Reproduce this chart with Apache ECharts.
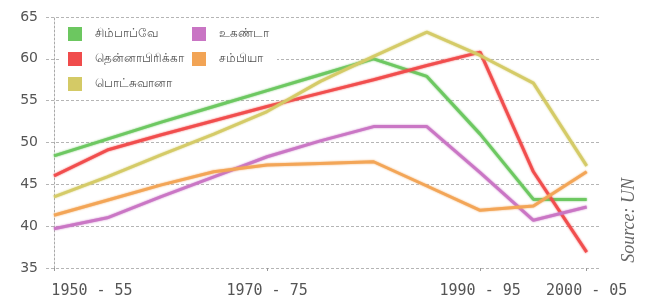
<!DOCTYPE html>
<html>
<head>
<meta charset="utf-8">
<script src="https://cdn.jsdelivr.net/npm/echarts@6/dist/echarts.min.js"></script>
<style>html,body{margin:0;padding:0;background:#fff;}#c{width:647px;height:307px;}</style>
</head>
<body>
<div id="c"></div>
<script>
const categories = ['1950 - 55','1955 - 60','1960 - 65','1965 - 70','1970 - 75','1975 - 80','1980 - 85','1985 - 90','1990 - 95','1995 - 00','2000 - 05'];
const labeledIndices = [0, 4, 8, 10];
const yTicks = [35, 40, 45, 50, 55, 60, 65];

const seriesNames = ['சிம்பாப்வே', 'தென்னாபிரிக்கா', 'பொட்சுவானா', 'உகண்டா', 'சம்பியா'];
const zimbabwe    = [48.4, 50.4, 52.4, 54.3, 56.2, 58.1, 60.0, 57.9, 51.0, 43.2, 43.2];
const southAfrica = [46.0, 49.1, 50.9, 52.6, 54.3, 55.9, 57.5, 59.2, 60.8, 46.5, 36.9];
const botswana    = [43.5, 45.9, 48.5, 51.0, 53.7, 57.3, 60.3, 63.2, 60.4, 57.1, 47.2];
const uganda      = [39.7, 41.0, 43.5, 45.9, 48.3, 50.2, 51.9, 51.9, 46.4, 40.7, 42.3];
const zambia      = [41.3, 43.1, 44.9, 46.5, 47.3, 47.5, 47.7, 44.8, 41.9, 42.4, 46.5];
const colors = ['#6cc760', '#f04c4c', '#d4ca66', '#c975c4', '#f2a455'];
const allValues = [zimbabwe, southAfrica, botswana, uganda, zambia];

const chart = echarts.init(document.getElementById('c'), null, {renderer: 'canvas'});
const series = seriesNames.map((name, k) => ({
  name: name,
  type: 'line',
  data: allValues[k].map((v, i) => [i, v]),
  symbol: 'none',
  smooth: false,
  lineStyle: {width: 3, color: colors[k], shadowColor: colors[k], shadowBlur: 2, opacity: 0.95},
  itemStyle: {color: colors[k]},
  z: 3
}));

const legendText = {fontSize: 12, color: '#555', padding: [0, 0, 0, 8], fontFamily: 'Noto Sans, DejaVu Sans, sans-serif'};
chart.setOption({
  animation: false,
  backgroundColor: '#fff',
  color: colors,
  grid: {left: 46, right: 47, top: 17, bottom: 39},
  xAxis: {
    type: 'value', min: -0.15, max: 10.25,
    axisLine: {show: false},
    splitLine: {show: false},
    axisTick: {show: true, customValues: labeledIndices, length: 3, lineStyle: {color: '#999'}},
    axisLabel: {
      customValues: labeledIndices,
      formatter: v => {
        const i = Math.round(v);
        return i === 0 ? '{first|' + categories[i] + '}' : (categories[i] || '');
      },
      rich: {first: {padding: [0, 0, 0, 76], fontSize: 15, color: '#555', fontFamily: 'DejaVu Sans Mono, monospace'}},
      margin: 16, fontSize: 15, color: '#555', fontFamily: 'DejaVu Sans Mono, monospace'
    }
  },
  yAxis: {
    type: 'value', min: yTicks[0], max: yTicks[yTicks.length - 1], interval: 5,
    axisLine: {show: true, lineStyle: {color: '#aaa', type: [2, 2]}},
    axisTick: {show: false},
    splitLine: {show: true, lineStyle: {color: '#b5b5b5', type: [3, 2]}},
    axisLabel: {margin: 8, fontSize: 14, color: '#555', fontFamily: 'DejaVu Sans, sans-serif'}
  },
  legend: [
    {
      data: [seriesNames[0], seriesNames[1], seriesNames[2]],
      orient: 'vertical', left: 60, top: 22, itemGap: 11,
      itemWidth: 14, itemHeight: 14, icon: 'rect',
      padding: [5, 6, 3, 8], backgroundColor: '#fff',
      textStyle: legendText
    },
    {
      data: [seriesNames[3], seriesNames[4]],
      orient: 'vertical', left: 185, top: 22, itemGap: 11,
      itemWidth: 14, itemHeight: 14, icon: 'rect',
      padding: [5, 8, 3, 7], backgroundColor: '#fff',
      textStyle: legendText
    }
  ],
  graphic: [{
    type: 'text', left: 620, top: 178, rotation: Math.PI / 2,
    style: {text: 'Source: UN', fontSize: 18, fontStyle: 'italic', fontFamily: 'Liberation Serif, DejaVu Serif, serif', fill: '#666'}
  }],
  series: series
});
</script>
</body>
</html>
